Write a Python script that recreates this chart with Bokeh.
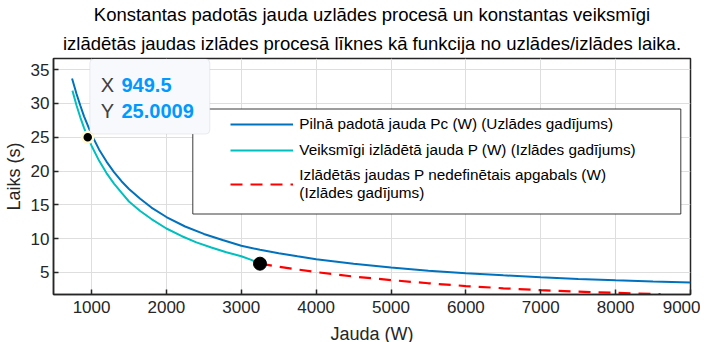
from bokeh.plotting import figure
from bokeh.models import (FixedTicker, Legend, LegendItem, BoxAnnotation,
                          Label, Title, Range1d)
from bokeh.embed import file_html
from bokeh.resources import INLINE

FONT = "Liberation Sans"
AX = "#262626"

# ---- data ----
x_ticks = [1000, 2000, 3000, 4000, 5000, 6000, 7000, 8000, 9000]
y_ticks = [5, 10, 15, 20, 25, 30, 35]

blue_p = [740, 800, 850, 900, 1000, 1100, 1200, 1300, 1400, 1500, 1650, 1800, 2000,
          2250, 2500, 2750, 3000, 3250, 3500, 3750, 4000, 4500, 5000, 5500, 6000,
          6500, 7000, 7500, 8000, 8500, 9000]
blue_t = [33.7, 31.4, 29.7, 28.1, 25.4, 23.2, 21.4, 19.85, 18.5, 17.35, 15.9, 14.6, 13.2,
          11.8, 10.7, 9.8, 8.95, 8.35, 7.85, 7.4, 6.97, 6.28, 5.72, 5.27, 4.89,
          4.57, 4.29, 4.05, 3.85, 3.66, 3.5]

cyan_p = [745, 800, 850, 900, 949.5, 1000, 1100, 1200, 1300, 1400, 1500, 1650, 1800,
          2000, 2200, 2400, 2600, 2800, 3000, 3125, 3250]
cyan_t = [31.9, 29.7, 27.95, 26.4, 25.0, 23.75, 21.55, 19.7, 18.15, 16.8, 15.5, 14.1, 12.9,
          11.5, 10.4, 9.45, 8.7, 8.0, 7.4, 6.9, 6.3]

red_p = [3250, 3500, 3750, 4000, 4500, 5000, 5500, 6000, 6500, 7000, 7500, 8000, 8300, 8600]
red_t = [6.3, 5.85, 5.45, 5.05, 4.4, 3.87, 3.4, 2.99, 2.66, 2.38, 2.16, 1.99, 1.89, 1.79]

tip_p = [949.5]
tip_t = [25.0009]
end_p = [cyan_p[-1]]
end_t = [cyan_t[-1]]

title_1 = "Konstantas padotās jauda uzlādes procesā un konstantas veiksmīgi"
title_2 = "izlādētās jaudas izlādes procesā līknes kā funkcija no uzlādes/izlādes laika."
labels = ["Pilnā padotā jauda Pc (W) (Uzlādes gadījums)",
          "Veiksmīgi izlādētā jauda P (W) (Izlādes gadījums)",
          "Izlādētās jaudas P nedefinētais apgabals (W)\n(Izlādes gadījums)"]

p = figure(frame_width=637, frame_height=236,
           x_range=Range1d(492, 9000), y_range=Range1d(1.74, 36.65),
           output_backend="svg", toolbar_location=None, title=None,
           min_border_left=45, min_border_right=10, min_border_top=0,
           min_border_bottom=0,
           background_fill_color="white", border_fill_color="white")
p.outline_line_color = AX
p.outline_line_width = 1.5

def style_axis(ax, ticks):
    ax.ticker = FixedTicker(ticks=ticks)
    ax.axis_line_color = AX
    ax.axis_line_width = 1.5
    ax.major_tick_line_color = AX
    ax.major_tick_line_width = 1.5
    ax.major_tick_in = 5
    ax.major_tick_out = 0
    ax.minor_tick_in = 0
    ax.minor_tick_out = 0
    ax.major_label_text_font = FONT
    ax.major_label_text_color = AX
    ax.major_label_text_font_size = "17px"
    ax.axis_label_text_font = FONT
    ax.axis_label_text_color = AX
    ax.axis_label_text_font_style = "normal"
    ax.axis_label_text_font_size = "18px"

style_axis(p.xaxis[0], x_ticks)
style_axis(p.yaxis[0], y_ticks)
p.xaxis[0].axis_label = "Jauda (W)"
p.yaxis[0].axis_label = "Laiks (s)"
p.xaxis[0].major_label_standoff = 6
p.xaxis[0].axis_label_standoff = 8
p.yaxis[0].major_label_standoff = 4
p.yaxis[0].axis_label_standoff = 4

p.xgrid.ticker = FixedTicker(ticks=x_ticks)
p.ygrid.ticker = FixedTicker(ticks=y_ticks)
p.grid.grid_line_color = "#dedede"
p.grid.grid_line_width = 1

p.add_layout(Title(text=title_2, align="center", text_font=FONT, text_font_size="18.5px",
                   text_font_style="normal", text_color="black", standoff=9), "above")
p.add_layout(Title(text=title_1, align="center", text_font=FONT, text_font_size="18.5px",
                   text_font_style="normal", text_color="black", standoff=3), "above")

r_blue = p.line(blue_p, blue_t, line_color="#0072BD", line_width=2)
r_cyan = p.line(cyan_p, cyan_t, line_color="#00BFBF", line_width=2)
r_red = p.line(red_p, red_t, line_color="#FF0000", line_width=2.2, line_dash="12 8")
p.scatter(end_p, end_t, size=13, color="black")
p.scatter(tip_p, tip_t, size=11, fill_color="black", line_color="#fffad2", line_width=2.5)

# legend frame
p.add_layout(BoxAnnotation(left=139.3, right=627.3, top=185.5, bottom=80.5,
                           left_units="screen", right_units="screen",
                           top_units="screen", bottom_units="screen",
                           fill_color="white", fill_alpha=1.0,
                           line_color=AX, line_width=1, line_alpha=0.9))

legend = Legend(items=[LegendItem(label=labels[0], renderers=[r_blue]),
                       LegendItem(label=labels[1], renderers=[r_cyan]),
                       LegendItem(label=labels[2], renderers=[r_red])],
                location=(171.3, 86.5), padding=6, spacing=6, margin=0,
                glyph_width=63, glyph_height=20, label_standoff=6, label_height=20,
                label_text_font=FONT, label_text_font_size="15.3px",
                label_text_color="black",
                background_fill_alpha=0, border_line_alpha=0)
p.add_layout(legend, "center")

# data tip
p.add_layout(BoxAnnotation(left=36.3, right=156.3, top=235.5, bottom=160.5,
                           left_units="screen", right_units="screen",
                           top_units="screen", bottom_units="screen",
                           fill_color="#f8f9fd", fill_alpha=1.0,
                           line_color="#c4c4c4", line_width=1, border_radius=4))
for yy, key, val in [(209.5, "X", f"{tip_p[0]}"), (183.8, "Y", f"{tip_t[0]}")]:
    p.add_layout(Label(x=47.3, y=yy, x_units="screen", y_units="screen", text=key,
                       text_font=FONT, text_font_size="20px", text_color="#404040",
                       text_baseline="middle", text_align="left"))
    p.add_layout(Label(x=68, y=yy, x_units="screen", y_units="screen", text=val,
                       text_font=FONT, text_font_size="20px", text_font_style="bold",
                       text_color="#0099FF", text_baseline="middle", text_align="left"))

open("out.html", "w").write(file_html(p, INLINE))
